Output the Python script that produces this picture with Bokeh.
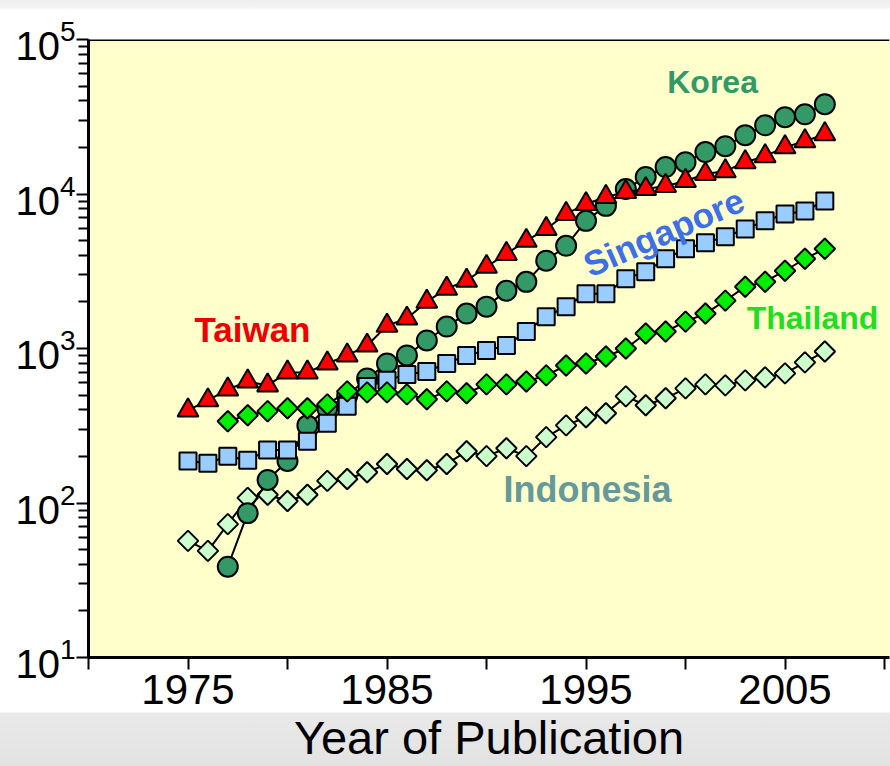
import math
from bokeh.plotting import figure
from bokeh.models import (FixedTicker, LogTickFormatter, Label, Span, Range1d,
                          ColumnDataSource)
from bokeh.embed import file_html
from bokeh.resources import INLINE

# ---------------- data ----------------
years_75 = list(range(1975, 2008))
years_77 = list(range(1977, 2008))

taiwan = [398, 462, 543, 612, 577, 700, 700, 800, 902, 1045, 1406, 1563, 2010, 2440,
          2750, 3380, 4100, 4980, 5940, 7430, 8610, 9570, 10300, 10770, 11270, 12140,
          13460, 14070, 16070, 17570, 20100, 21970, 24400]
korea = [38.7, 86, 141, 187, 318, 410, 497, 640, 800, 902, 1127, 1387, 1683, 1866, 2365,
         2700, 3700, 4620, 6700, 8380, 10770, 12890, 14940, 16070, 18680, 20400, 24040,
         27850, 31400, 32800, 38100]
singapore = [187, 181, 201, 189, 220, 220, 251, 328, 423, 568, 622, 680, 711, 800, 902,
             970, 1045, 1288, 1607, 1866, 2265, 2265, 2830, 3140, 3810, 4420, 4830, 5290,
             5940, 6700, 7430, 7770, 9010]
thailand = [338, 370, 393, 410, 410, 435, 528, 520, 520, 505, 469, 528, 513, 586, 586,
            612, 670, 776, 800, 887, 1000, 1250, 1288, 1493, 1683, 2042, 2512, 2705, 3186,
            3810, 4420]
indonesia = [56.9, 49, 73, 108, 113, 103, 113, 139, 143, 158, 179, 166, 163, 179, 216, 201,
             226, 201, 267, 318, 359, 381, 490, 429, 476, 552, 586, 577, 622, 650, 690, 813,
             957]

x_ticks = [1970, 1975, 1980, 1985, 1990, 1995, 2000, 2005, 2010]
x_tick_labels = {1970: "", 1975: "1975", 1980: "", 1985: "1985", 1990: "",
                 1995: "1995", 2000: "", 2005: "2005", 2010: ""}
y_ticks = [10, 100, 1000, 10000, 100000]

FONT = "Liberation Sans"

p = figure(width=890, height=766, y_axis_type="log",
           x_range=Range1d(1970, 2010.25), y_range=Range1d(10, 1e5),
           output_backend="svg", toolbar_location=None,
           min_border_left=88, min_border_right=1, min_border_top=39, min_border_bottom=108)
p.grid.visible = False
p.outline_line_color = None
p.background_fill_color = "#FFFFCC"
p.border_fill_alpha = 0.0
p.styles = {"background-image": "linear-gradient(to bottom, #eeeeee 0px, #f4f4f4 8px, "
                                "white 9px, white 712px, #e9e9e9 713px, #e2e2e2 766px)"}

# axes
xa = p.xaxis[0]
xa.ticker = FixedTicker(ticks=x_ticks)
xa.major_label_overrides = x_tick_labels
xa.axis_line_width = 3
xa.major_tick_line_width = 2
xa.major_tick_out = 12
xa.major_tick_in = 0
xa.minor_tick_line_color = None
xa.major_label_text_font = FONT
xa.major_label_text_font_size = "42px"
xa.major_label_text_color = "black"
xa.major_label_standoff = 5
xa.axis_label = "Year of Publication"
xa.axis_label_text_font = FONT
xa.axis_label_text_font_size = "47px"
xa.axis_label_text_font_style = "normal"
xa.axis_label_text_color = "black"
xa.axis_label_standoff = 4

ya = p.yaxis[0]
minor = [k * 10 ** d for d in range(1, 5) for k in range(2, 10)]
ya.ticker = FixedTicker(ticks=y_ticks, minor_ticks=minor)
ya.formatter = LogTickFormatter()
ya.axis_line_width = 3
ya.major_tick_line_width = 2
ya.minor_tick_line_width = 2
ya.major_tick_out = 12
ya.major_tick_in = 0
ya.minor_tick_out = 10
ya.minor_tick_in = 0
ya.major_label_text_font = FONT
ya.major_label_text_font_size = "40px"
ya.major_label_text_color = "black"
ya.major_label_standoff = 1

p.add_layout(Span(location=1e5, dimension="width", line_color="black", line_width=3))

# series
series = [
    (years_75, indonesia, "square", 14.5, math.pi / 4, "#CCFFCC"),
    (years_77, korea, "circle", 20, 0.0, "#339966"),
    (years_75, singapore, "square", 17, 0.0, "#99CCFF"),
    (years_77, thailand, "square", 14.5, math.pi / 4, "#00EE00"),
    (years_75, taiwan, "triangle", 21, 0.0, "#FF0000"),
]
for xs, ys, marker, size, ang, color in series:
    src = ColumnDataSource(dict(x=xs, y=ys))
    p.line("x", "y", source=src, line_color="black", line_width=2)
    p.scatter("x", "y", source=src, marker=marker, size=size, angle=ang,
              fill_color=color, line_color="black", line_width=2)

# series labels
def lab(text, x, y, color, size, angle=0.0):
    p.add_layout(Label(x=x, y=y, text=text, text_color=color, text_font=FONT,
                       text_font_style="bold", text_font_size=size, angle=angle,
                       text_align="center", text_baseline="middle"))

lab("Korea", 2001.36, 52700, "#339966", "32px")
lab("Taiwan", 1978.24, 1318, "#EE0000", "35px")
lab("Singapore", 1998.9, 5660, "#3D6FE8", "35px", 0.41)
lab("Thailand", 2006.38, 1574, "#22DD22", "32px")
lab("Indonesia", 1995.08, 122, "#669999", "36px")

open("out.html", "w").write(file_html(p, INLINE))
